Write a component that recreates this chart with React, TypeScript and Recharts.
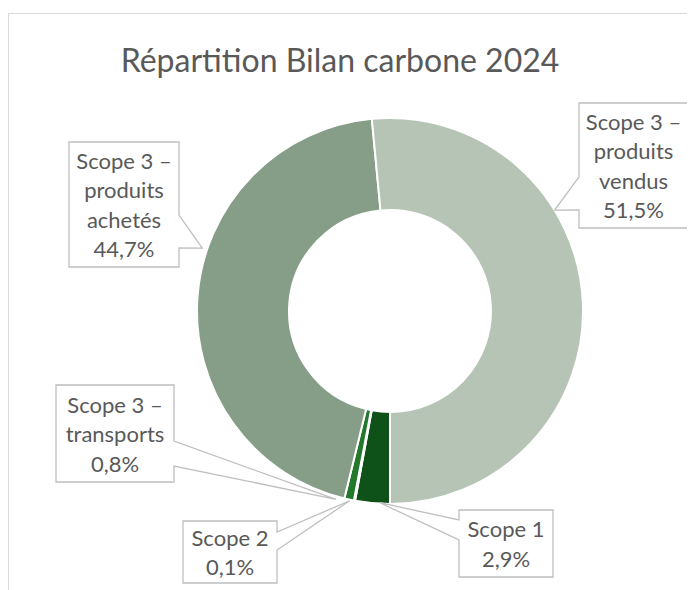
import { PieChart, Pie, Cell } from "recharts"

// slices, clockwise from 6 o'clock as in the original workbook
const names = [
  "Scope 1",
  "Scope 2",
  "Scope 3 – transports",
  "Scope 3 – produits achetés",
  "Scope 3 – produits vendus",
]
const values = [2.9, 0.1, 0.8, 44.7, 51.5]
const labelLines = [
  ["Scope 1"],
  ["Scope 2"],
  ["Scope 3 –", "transports"],
  ["Scope 3 –", "produits", "achetés"],
  ["Scope 3 –", "produits", "vendus"],
]
const colors = ["#0F5219", "#2C7A30", "#23782C", "#869E87", "#B6C4B6"]

const data = names.map((name, i) => ({ name, value: values[i] }))

const W = 687
const H = 577
const FONT = "Lato, 'Noto Sans', sans-serif"
const TEXT = "#595959"
const LINE_H = 29.5

// callout boxes (chart coords): box, side of the pointer, pointer base, tip angle (deg clockwise from top)
const callouts = [
  { x: 451, y: 497, w: 94, h: 67, side: "left", b0: 507, b1: 527, tip: 183, tr: 192 },
  { x: 175, y: 508, w: 94, h: 62, side: "right", b0: 519, b1: 537, tip: 192, tr: 194 },
  { x: 48, y: 372, w: 118, h: 97, side: "right", b0: 428, b1: 453, tip: 196, tr: 196 },
  { x: 61, y: 129, w: 110, h: 125, side: "right", b0: 202, b1: 235, tip: 288.5, tr: 198 },
  { x: 571, y: 90, w: 109, h: 125, side: "left", b0: 164, b1: 197, tip: 58.5, tr: 193 },
]

const fmt = (v: number) => v.toFixed(1).replace(".", ",") + "%"

function renderLabel(props: any) {
  const { cx, cy, index, value } = props
  const c = callouts[index]
  const a = (c.tip * Math.PI) / 180
  const tx = cx + c.tr * Math.sin(a)
  const ty = cy - c.tr * Math.cos(a)
  const x0 = c.x
  const x1 = c.x + c.w
  const y0 = c.y
  const y1 = c.y + c.h
  const d =
    c.side === "right"
      ? `M${x0},${y0}H${x1}V${c.b0}L${tx},${ty}L${x1},${c.b1}V${y1}H${x0}Z`
      : `M${x0},${y0}H${x1}V${y1}H${x0}V${c.b1}L${tx},${ty}L${x0},${c.b0}Z`
  const lines = [...labelLines[index], fmt(value)]
  const mid = c.x + c.w / 2
  const top = c.y + c.h / 2 - ((lines.length - 1) * LINE_H) / 2
  return (
    <g key={"lbl" + index}>
      <path d={d} fill="#fff" stroke="#BFBFBF" strokeWidth={1.3} />
      {lines.map((t, i) => (
        <text
          key={i}
          x={mid}
          y={top + i * LINE_H}
          textAnchor="middle"
          dominantBaseline="central"
          fontFamily={FONT}
          fontSize={22}
          fill={TEXT}
        >
          {t}
        </text>
      ))}
    </g>
  )
}

export default function App() {
  return (
    <div style={{ paddingTop: 5 }}>
      <div style={{ position: "relative", width: W, height: H, overflow: "hidden" }}>
        <div
          style={{
            position: "absolute",
            left: 0,
            top: 0,
            width: W + 20,
            height: H + 20,
            borderLeft: "1.5px solid #D9D9D9",
            borderTop: "1.5px solid #D9D9D9",
          }}
        />
        <div
          style={{
            position: "absolute",
            left: 0,
            width: 664,
            top: 27,
            textAlign: "center",
            fontFamily: FONT,
            fontSize: 32,
            color: TEXT,
            lineHeight: "40px",
          }}
        >
          Répartition Bilan carbone 2024
        </div>
        <div style={{ position: "absolute", left: 0, top: 0 }}>
          <PieChart width={W} height={H} margin={{ top: 0, right: 0, bottom: 0, left: 0 }}>
            <Pie
              data={data}
              dataKey="value"
              nameKey="name"
              cx={382}
              cy={298}
              innerRadius={101}
              outerRadius={193}
              startAngle={-90}
              endAngle={-450}
              stroke="#fff"
              strokeWidth={2}
              label={renderLabel}
              labelLine={false}
              isAnimationActive={false}
            >
              {data.map((d, i) => (
                <Cell key={d.name} fill={colors[i]} />
              ))}
            </Pie>
          </PieChart>
        </div>
      </div>
    </div>
  )
}
